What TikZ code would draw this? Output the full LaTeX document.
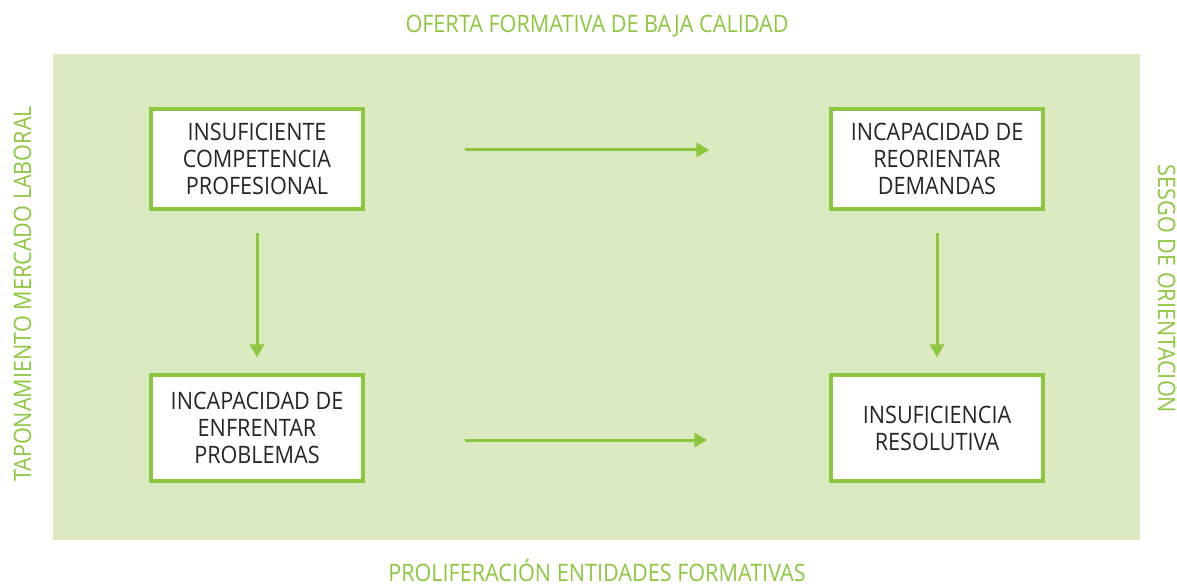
\documentclass[tikz,border=0pt]{standalone}
\usepackage{fontspec}
\setmainfont[FakeStretch=0.9]{Open Sans}
\usetikzlibrary{arrows.meta}
\definecolor{lg}{HTML}{DCEAC2}
\definecolor{gr}{HTML}{8DC63F}
\begin{document}
\begin{tikzpicture}[x=1pt,y=-1pt,
  box/.style={draw=gr,line width=3.2pt,fill=white,minimum width=212pt,minimum height=100pt,align=center,font=\fontsize{24}{27}\selectfont,text=black!85,inner sep=0pt},
  side/.style={text=gr,font=\fontsize{24}{27}\selectfont,inner sep=0pt},
  arr/.style={draw=gr,line width=3pt,-{Triangle[length=13pt,width=14pt]}}]
\useasboundingbox (0,0) rectangle (1177,585);
\fill[lg] (53,54) rectangle (1140,540);
\node[side,anchor=base] (top) at (597,33) {OFERTA FORMATIVA DE BAJA CALIDAD};
\node[side,anchor=base] (bot) at (597,581) {PROLIFERACIÓN ENTIDADES FORMATIVAS};
\node[side,rotate=90,anchor=base] (left) at (31,294) {TAPONAMIENTO MERCADO LABORAL};
\node[side,rotate=-90,anchor=base] (right) at (1158,289) {SESGO DE ORIENTACIÓN};
\node[box] (a) at (257,159) {INSUFICIENTE\\COMPETENCIA\\PROFESIONAL};
\node[box] (b) at (937,159) {INCAPACIDAD DE\\REORIENTAR\\DEMANDAS};
\node[box,minimum height=106pt] (c) at (257,428) {INCAPACIDAD DE\\ENFRENTAR\\PROBLEMAS};
\node[box,minimum height=106pt] (d) at (937,428) {INSUFICIENCIA\\RESOLUTIVA};
\draw[arr] ([xshift=100pt]a.east|-0,150) -- ([xshift=-120pt]b.west|-0,150);
\draw[arr] ([xshift=100pt]c.east|-0,440) -- ([xshift=-122pt]d.west|-0,440);
\draw[arr] ([yshift=-22pt]a.south) -- ([yshift=16pt]c.north);
\draw[arr] ([yshift=-22pt]b.south) -- ([yshift=16pt]d.north);
\end{tikzpicture}
\end{document}
